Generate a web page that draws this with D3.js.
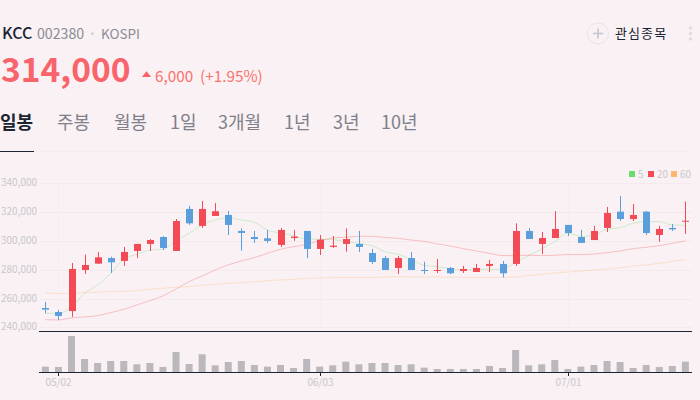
<!DOCTYPE html>
<html>
<head>
<meta charset="utf-8">
<script src="https://cdn.jsdelivr.net/npm/d3@7"></script>
<style>
  html, body { margin: 0; padding: 0; background: #f9f1f3; overflow: hidden; }
  text { font-family: "Noto Sans CJK KR", "Noto Sans", sans-serif; }
</style>
</head>
<body>
<script>
// chart data, prices in thousands of won, volume in thousands of shares
var opens  = [253.4,250.6,251.3,279.8,284.2,288.1,286.1,293.0,297.9,302.7,293.0,322.2,310.4,317.3,318.0,306.9,302.7,301.8,297.2,302.0,306.9,294.4,295.8,297.9,297.9,291.6,288.1,281.2,288.1,279.8,279.1,281.2,279.1,278.4,282.6,284.0,284.0,306.9,297.9,302.0,311.1,302.7,300.6,309.0,320.3,315.2,320.3,304.1,309.0,313.8];
var highs  = [257.6,252.0,284.7,290.5,292.3,289.1,295.8,297.9,301.3,303.4,315.2,324.3,327.7,326.3,320.8,308.7,306.9,307.6,309.0,307.6,306.9,304.1,303.4,308.7,306.9,294.4,289.5,289.5,292.3,285.6,287.5,281.9,282.6,284.0,286.8,286.1,312.2,309.0,306.2,320.6,311.1,307.6,310.4,323.6,331.2,325.6,320.8,310.4,311.8,327.3];
var lows   = [249.7,245.1,247.2,277.0,284.2,277.7,282.6,288.1,293.0,293.7,293.0,311.1,309.0,317.3,304.1,293.2,298.6,298.6,295.8,300.0,288.1,290.2,295.1,292.5,292.3,284.0,279.8,277.0,279.8,277.0,277.7,277.0,277.7,278.4,278.4,274.7,282.6,301.3,290.9,302.0,303.4,298.6,300.6,306.2,313.8,313.8,304.1,299.3,306.9,304.8];
var closes = [252.3,247.9,280.5,283.3,288.6,285.1,292.3,297.9,300.6,295.1,313.8,312.2,322.2,320.6,311.1,305.5,301.3,300.0,307.6,303.0,294.4,300.9,296.7,301.3,295.8,285.4,279.8,288.1,279.8,279.1,279.8,277.5,280.5,281.2,284.0,277.5,306.9,301.3,302.0,308.3,305.5,298.6,306.9,319.4,315.2,318.0,305.5,308.3,308.0,314.0];
var ma5    = [249.7,249.7,254.3,263.6,269.4,277.5,287.2,290.7,293.5,294.2,300.0,305.3,311.1,314.5,316.2,314.5,312.9,307.6,305.3,303.7,301.3,301.1,300.9,299.5,298.3,296.7,292.5,290.7,287.2,283.0,282.1,280.7,279.8,280.3,280.3,280.3,285.1,289.8,294.4,299.5,305.3,303.2,303.9,308.3,309.2,312.2,313.4,313.4,311.1,310.8];
var ma20   = [245.3,245.1,246.5,247.2,248.1,250.2,252.5,255.5,258.5,261.8,266.6,271.7,275.6,279.8,283.3,286.1,288.4,291.4,294.2,296.0,297.6,300.2,302.0,302.5,303.2,303.2,302.3,301.8,300.6,299.7,297.9,296.5,294.6,293.0,291.4,289.8,289.8,290.0,289.8,290.0,290.5,290.5,290.9,291.8,293.0,294.6,295.6,296.7,298.3,300.0];
var ma60   = [264.1,263.4,263.6,264.1,264.5,264.8,265.0,265.5,266.4,267.1,267.8,268.2,269.2,269.9,270.6,271.0,271.7,272.4,272.9,273.3,274.0,274.3,274.5,274.7,274.5,274.5,275.0,275.2,275.0,275.0,275.0,274.7,274.7,274.5,274.5,274.7,275.0,275.9,276.8,277.7,278.4,279.1,279.8,280.5,281.4,282.6,283.3,284.4,285.8,287.2];
var volumes = [17,16,109,40,28,34,34,24,28,16,61,25,54,21,31,34,22,17,22,13,40,17,21,32,24,28,28,22,24,14,10,10,10,10,19,13,67,21,24,37,10,17,22,34,31,13,22,16,19,32];

var y_ticks = [240,260,280,300,320,340];
var date_index = [1,21,40];
var date_labels = ["05/02","06/03","07/01"];
var tab_labels = ["일봉","주봉","월봉","1일","3개월","1년","3년","10년"];
var tab_x = [0,57,114,170,218,284,333,381];
var legend_labels = ["5","20","60"];
var legend_colors = ["#69dc6e","#f44a56","#ffb570"];
var legend_x = [629,648,671];

var red = "#f44a56", blue = "#5a9fdc", dark = "#1b2433";
var grey_label = "#c9c8ce", plot_left = 40, plot_right = 692;

var svg = d3.select("body").append("svg")
  .attr("width", 700)
  .attr("height", 400)
  .style("display", "block");

// scales
var x = d3.scaleLinear().domain([0, 49]).range([45.4, 685.4]);
var y = d3.scaleLinear().domain([240, 340]).range([327.3, 183.3]);
var y_vol = d3.scaleLinear().domain([0, 109]).range([372.3, 336]);

// header
svg.append("text").attr("x", 2).attr("y", 39).text("KCC")
  .attr("font-size", 16).attr("font-weight", 500).attr("fill", dark);
svg.append("text").attr("x", 37).attr("y", 38.5).text("002380")
  .attr("font-size", 14.2).attr("fill", "#8a8b96");
svg.append("circle").attr("cx", 92.5).attr("cy", 33.5).attr("r", 1.5).attr("fill", "#d5d3d9");
svg.append("text").attr("x", 101).attr("y", 38.5).text("KOSPI")
  .attr("font-size", 13.5).attr("fill", "#8a8b96");

svg.append("text").attr("x", 1).attr("y", 81.5).text("314,000")
  .attr("font-size", 33.5).attr("font-weight", 700).attr("fill", "#f9636b");
svg.append("path").attr("d", d3.symbol(d3.symbolTriangle, 30)())
  .attr("transform", "translate(146.5,75) scale(1.1,0.8)").attr("fill", "#f9636b");
svg.append("text").attr("x", 155).attr("y", 82).text("6,000")
  .attr("font-size", 15.3).attr("fill", "#f9736f");
svg.append("text").attr("x", 200).attr("y", 82).text("(+1.95%)")
  .attr("font-size", 15.3).attr("fill", "#f9736f");

// watchlist button
svg.append("circle").attr("cx", 598).attr("cy", 33.5).attr("r", 10.5)
  .attr("fill", "none").attr("stroke", "#e9e4e9");
svg.append("path").attr("d", "M593 33.5H603M598 28.5V38.5")
  .attr("stroke", "#c4c5d0").attr("stroke-width", 1.6);
svg.append("text").attr("x", 615).attr("y", 38).text("관심종목")
  .attr("font-size", 13).attr("letter-spacing", 1.1).attr("fill", dark);
svg.selectAll(".menu_dot").data([28, 33.5, 39]).enter().append("circle")
  .attr("cx", 690.5).attr("cy", function(d) { return d; }).attr("r", 1.7).attr("fill", "#dedbe1");

// tabs
svg.selectAll(".tab").data(tab_labels).enter().append("text")
  .attr("x", function(d, i) { return tab_x[i]; })
  .attr("y", 129)
  .attr("font-size", 18)
  .attr("font-weight", function(d, i) { return i == 0 ? 700 : 400; })
  .attr("fill", function(d, i) { return i == 0 ? dark : "#7f808c"; })
  .text(function(d) { return d; });
svg.append("line").attr("x1", 0).attr("x2", 692).attr("y1", 151.5).attr("y2", 151.5).attr("stroke", "#f5edef");
svg.append("line").attr("x1", 0).attr("x2", 34).attr("y1", 151.5).attr("y2", 151.5).attr("stroke", dark);

// legend
legend_labels.forEach(function(d, i) {
  svg.append("rect").attr("x", legend_x[i]).attr("y", 171).attr("width", 6).attr("height", 6).attr("fill", legend_colors[i]);
  svg.append("text").attr("x", legend_x[i] + 9).attr("y", 178).text(d)
    .attr("font-size", 10).attr("fill", grey_label);
});

// grid
svg.selectAll(".grid_y").data(y_ticks).enter().append("line")
  .attr("x1", plot_left).attr("x2", plot_right)
  .attr("y1", function(d) { return Math.round(y(d)) + 0.5; })
  .attr("y2", function(d) { return Math.round(y(d)) + 0.5; })
  .attr("stroke", "#f4eaec");
svg.selectAll(".grid_x").data(date_index).enter().append("line")
  .attr("x1", function(d) { return Math.round(x(d)) + 0.5; })
  .attr("x2", function(d) { return Math.round(x(d)) + 0.5; })
  .attr("y1", 183).attr("y2", 331)
  .attr("stroke", "#f6edef");

svg.selectAll(".y_label").data(y_ticks).enter().append("text")
  .attr("x", 1)
  .attr("y", function(d) { return y(d) + 3; })
  .attr("font-size", 10)
  .attr("fill", grey_label)
  .text(function(d) { return d3.format(",")(d * 1000); });

// moving averages
var line = d3.line()
  .x(function(d, i) { return x(i); })
  .y(function(d) { return y(d); })
  .curve(d3.curveMonotoneX);

[ma5, ma20, ma60].forEach(function(d, i) {
  svg.append("path").attr("d", line(d))
    .attr("fill", "none")
    .attr("stroke", legend_colors[i])
    .attr("stroke-opacity", 0.3)
    .attr("stroke-width", 1);
});

// candles
closes.forEach(function(close, i) {
  var open = opens[i];
  var color = close >= open ? red : blue;
  var cx = Math.round(x(i)) + 0.5;
  var top = y(Math.max(open, close));
  var bottom = y(Math.min(open, close));
  svg.append("line")
    .attr("x1", cx).attr("x2", cx)
    .attr("y1", y(highs[i])).attr("y2", y(lows[i]))
    .attr("stroke", color);
  svg.append("rect")
    .attr("x", cx - 3.5).attr("width", 7)
    .attr("y", top).attr("height", Math.max(bottom - top, 1))
    .attr("fill", color);
});

// volume
svg.selectAll(".volume").data(volumes).enter().append("rect")
  .attr("x", function(d, i) { return x(i) - 3.5; })
  .attr("width", 7)
  .attr("y", function(d) { return y_vol(d); })
  .attr("height", function(d) { return y_vol(0) - y_vol(d); })
  .attr("fill", "#bab8bd");

svg.append("line").attr("x1", plot_left - 1).attr("x2", plot_right).attr("y1", 331.5).attr("y2", 331.5).attr("stroke", dark);
svg.append("line").attr("x1", plot_left - 1).attr("x2", plot_right).attr("y1", 372.5).attr("y2", 372.5).attr("stroke", dark);

// dates
date_index.forEach(function(d, i) {
  var cx = Math.round(x(d)) + 0.5;
  svg.append("line").attr("x1", cx).attr("x2", cx).attr("y1", 372).attr("y2", 376).attr("stroke", dark);
  svg.append("text").attr("x", cx).attr("y", 385.5)
    .attr("text-anchor", "middle")
    .attr("font-size", 10).attr("fill", grey_label)
    .text(date_labels[i]);
});
</script>
</body>
</html>
